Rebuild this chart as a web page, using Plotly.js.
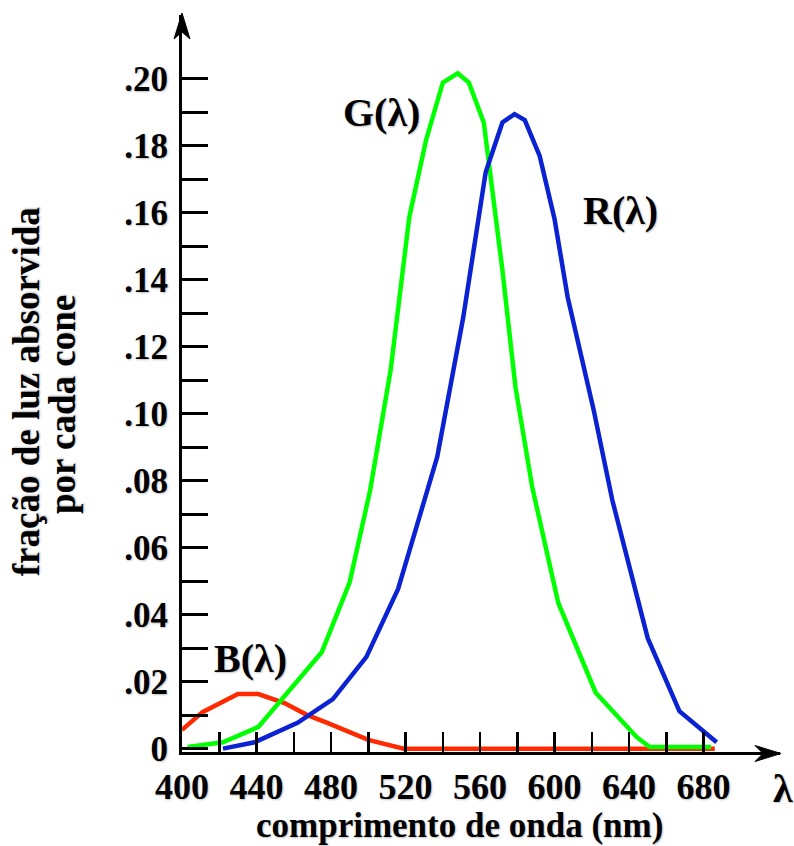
<!DOCTYPE html>
<html>
<head>
<meta charset="utf-8">
<script src="https://cdn.plot.ly/plotly-3.0.1.min.js"></script>
<style>html,body{margin:0;padding:0;background:#fff;}#chart{width:794px;height:846px;}</style>
</head>
<body>
<div id="chart"></div>
<script>
// Wavelength (nm) and absorbed fraction for each cone type
const gWave = [403, 422, 441, 475, 490, 501, 512, 522, 531, 540, 548, 554, 562, 569, 572, 579, 588, 602, 622, 644, 651, 684];
const gVal  = [0.0005, 0.0019, 0.0065, 0.0288, 0.0497, 0.0772, 0.1131, 0.1587, 0.1817, 0.1989, 0.2017, 0.1989, 0.1870, 0.1579, 0.1429, 0.1080, 0.0781, 0.0435, 0.0168, 0.0035, 0.0005, 0.0005];

const rWave = [422, 439, 462, 481, 499, 516, 537, 551, 563, 572, 578.5, 584, 592, 600, 607, 621, 631, 650, 667, 687];
const rVal  = [0.0, 0.0019, 0.0077, 0.0148, 0.0274, 0.0477, 0.0871, 0.1289, 0.1721, 0.1870, 0.1895, 0.1877, 0.1770, 0.1581, 0.1349, 0.1011, 0.0742, 0.0330, 0.0112, 0.0019];

const bWave = [400, 411, 430, 441, 455, 467, 478, 500, 519, 530, 686];
const bVal  = [0.0056, 0.0109, 0.0163, 0.0163, 0.0136, 0.0101, 0.0077, 0.0026, 0.0, 0.0, 0.0];

// Tick definitions
const xTickVals = [400, 420, 440, 460, 480, 500, 520, 540, 560, 580, 600, 620, 640, 660, 680];
const xTickText = ['400', '', '440', '', '480', '', '520', '', '560', '', '600', '', '640', '', '680'];
const yTickVals = [0, 0.01, 0.02, 0.03, 0.04, 0.05, 0.06, 0.07, 0.08, 0.09, 0.10, 0.11, 0.12, 0.13, 0.14, 0.15, 0.16, 0.17, 0.18, 0.19, 0.20];
const yTickText = ['0', '', '.02', '', '.04', '', '.06', '', '.08', '', '.10', '', '.12', '', '.14', '', '.16', '', '.18', '', '.20'];

// Curve labels
const curveLabels = ['G(λ)', 'R(λ)', 'B(λ)'];
const labelX = [507, 635.5, 437];
const labelY = [0.1899, 0.1606, 0.0268];

const xTitle = 'comprimento de onda (nm)';
const yTitleLines = ['fração de luz absorvida', 'por cada cone'];
const xSymbol = 'λ';

const SERIF = '"Liberation Serif", "Times New Roman", serif';
const shadow = '1px 1px 2px rgba(0,0,0,0.25)';

const traces = [
  {x: bWave, y: bVal, mode: 'lines', line: {color: '#ff2a00', width: 4.5}, name: 'B', hoverinfo: 'skip'},
  {x: gWave, y: gVal, mode: 'lines', line: {color: '#00ff00', width: 4.5}, name: 'G', hoverinfo: 'skip'},
  {x: rWave, y: rVal, mode: 'lines', line: {color: '#0a22d2', width: 4.5}, name: 'R', hoverinfo: 'skip'}
];

const annotations = curveLabels.map((t, i) => ({
  x: labelX[i], y: labelY[i], xref: 'x', yref: 'y', text: t, showarrow: false,
  font: {family: SERIF, size: 40, color: '#000', weight: 'bold', shadow: shadow},
  xanchor: 'center', yanchor: 'middle'
}));
annotations.push({
  x: 0.464, y: -0.0997, xref: 'paper', yref: 'paper', text: xTitle, showarrow: false,
  font: {family: SERIF, size: 35, color: '#000', weight: 'bold', shadow: shadow},
  xanchor: 'center', yanchor: 'middle', borderpad: 0
});
annotations.push({
  x: -0.2588, y: 0.4885, xref: 'paper', yref: 'paper', text: yTitleLines[0], showarrow: false, textangle: -90,
  font: {family: SERIF, size: 37, color: '#000', weight: 'bold', shadow: shadow},
  xanchor: 'center', yanchor: 'middle'
});
annotations.push({
  x: -0.1987, y: 0.471, xref: 'paper', yref: 'paper', text: yTitleLines[1], showarrow: false, textangle: -90,
  font: {family: SERIF, size: 37, color: '#000', weight: 'bold', shadow: shadow},
  xanchor: 'center', yanchor: 'middle'
});
annotations.push({
  x: 1.005, y: -0.049, xref: 'paper', yref: 'paper', text: xSymbol, showarrow: false,
  font: {family: SERIF, size: 40, color: '#000', weight: 'bold', shadow: shadow},
  xanchor: 'center', yanchor: 'middle'
});

const shapes = [
  // y-axis arrowhead
  {type: 'path', xref: 'paper', yref: 'paper', xsizemode: 'pixel', ysizemode: 'pixel', xanchor: 0, yanchor: 1,
   path: 'M 0 2 L -8 -24 L 0 -17 L 8 -24 Z', fillcolor: '#000', line: {color: '#000', width: 1}},
  // x-axis arrowhead
  {type: 'path', xref: 'paper', yref: 'paper', xsizemode: 'pixel', ysizemode: 'pixel', xanchor: 1, yanchor: 0,
   path: 'M 1 -1.5 L -25 6.5 L -17 -1.5 L -25 -9.5 Z', fillcolor: '#000', line: {color: '#000', width: 1}}
];

const layout = {
  width: 794, height: 846,
  margin: {l: 182, r: 14, t: 15, b: 94, pad: 0},
  paper_bgcolor: '#fff', plot_bgcolor: '#fff',
  showlegend: false,
  font: {family: SERIF, color: '#000'},
  xaxis: {
    range: [400, 721], showgrid: false, zeroline: false,
    showline: true, linecolor: '#000', linewidth: 3,
    tickmode: 'array', tickvals: xTickVals, ticktext: xTickText,
    ticks: 'inside', ticklen: 20, tickwidth: 2.5, tickcolor: '#000',
    tickfont: {family: SERIF, size: 36, color: '#000', weight: 'bold', shadow: shadow},
    ticklabelstandoff: 1
  },
  yaxis: {
    range: [-0.001, 0.2191], showgrid: false, zeroline: false,
    showline: true, linecolor: '#000', linewidth: 3,
    tickmode: 'array', tickvals: yTickVals, ticktext: yTickText,
    ticks: 'inside', ticklen: 26, tickwidth: 3, tickcolor: '#000',
    tickfont: {family: SERIF, size: 35, color: '#000', weight: 'bold', shadow: shadow},
    ticklabelstandoff: 4
  },
  annotations: annotations,
  shapes: shapes
};

Plotly.newPlot('chart', traces, layout, {displayModeBar: false, staticPlot: true});
</script>
</body>
</html>
